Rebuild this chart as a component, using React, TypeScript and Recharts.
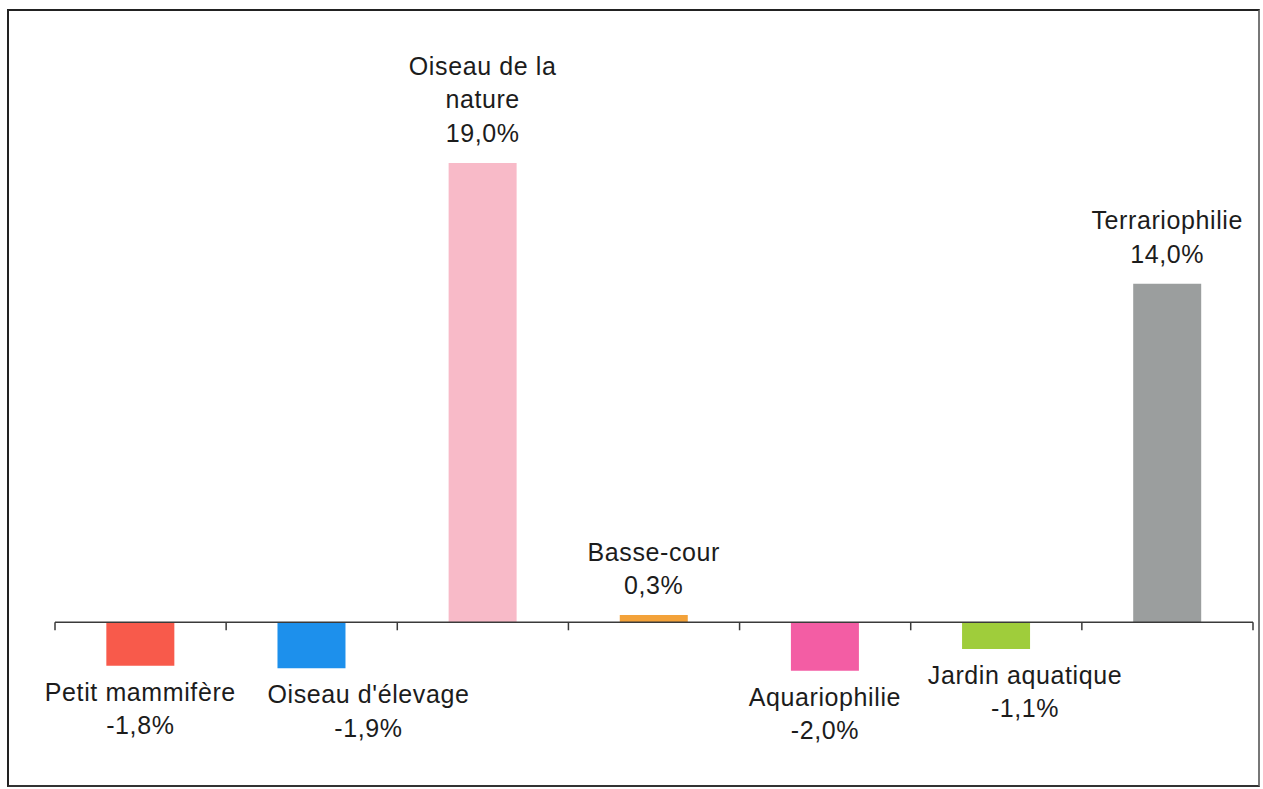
import { BarChart, Bar, XAxis, YAxis, Cell, LabelList, ReferenceLine } from 'recharts'

// categories (a "\n" marks where the label wraps in the original)
const categories = [
  'Petit mammifère',
  "Oiseau d'élevage",
  'Oiseau de la\nnature',
  'Basse-cour',
  'Aquariophilie',
  'Jardin aquatique',
  'Terrariophilie',
]
const values = [-1.8, -1.9, 19.0, 0.3, -2.0, -1.1, 14.0]
const colors = ['#f85a4b', '#1d90ec', '#f8bac8', '#f3a23a', '#f35da4', '#9fcd3b', '#9b9e9e']

// labels that were nudged sideways in the original to avoid overlaps
const labelShift: Record<string, number> = {
  "Oiseau d'élevage": 57,
  'Jardin aquatique': 29,
}

const data = categories.map((name, i) => ({ name, value: values[i] }))

const fmt = (v: number) => v.toFixed(1).replace('.', ',') + '%'

const textStyle = {
  fontFamily: '"Liberation Sans", Arial, sans-serif',
  fontSize: 25,
  letterSpacing: 0.6,
  fill: '#1c1c1c',
}

const LINE = 33.5

function BarLabel(props: any) {
  const { x, y, width, height, index } = props
  const d = data[index]
  if (!d) return null
  const top = Math.min(y, y + height)
  const bottom = Math.max(y, y + height)
  const cx = x + width / 2 + (labelShift[d.name] || 0)
  const lines = [...d.name.split('\n'), fmt(d.value)]
  const ys =
    d.value >= 0
      ? lines.map((_, i) => top - 30 - (lines.length - 1 - i) * LINE)
      : lines.map((_, i) => bottom + 26 + i * LINE)
  return (
    <g>
      {lines.map((t, i) => (
        <text key={i} x={cx} y={ys[i]} textAnchor="middle" dominantBaseline="central" {...textStyle}>
          {t}
        </text>
      ))}
    </g>
  )
}

function ZeroAxis(props: any) {
  const { x1, x2, y1 } = props
  const n = categories.length
  const step = (x2 - x1) / n
  const ticks = Array.from({ length: n + 1 }, (_, i) => x1 + i * step)
  return (
    <g>
      <line x1={x1} x2={x2} y1={y1} y2={y1} stroke="#3a3a3a" strokeWidth={1.5} />
      {ticks.map((tx, i) => (
        <line key={i} x1={tx} x2={tx} y1={y1} y2={y1 + 8} stroke="#3a3a3a" strokeWidth={1.5} />
      ))}
    </g>
  )
}

export default function App() {
  return (
    <div style={{ position: 'absolute', left: 0, top: 0, width: 1263, height: 789, background: '#fff' }}>
      <div
        style={{
          position: 'absolute',
          left: 7,
          top: 9,
          width: 1253,
          height: 778,
          borderLeft: '2px solid #222',
          borderTop: '2px solid #222',
          borderRight: '2px solid #777',
          borderBottom: '2px solid #333',
          boxSizing: 'border-box',
        }}
      />
      <div style={{ position: 'absolute', left: 0, top: 0 }}>
        <BarChart
          width={1263}
          height={789}
          data={data}
          margin={{ top: 42, right: 10, left: 55, bottom: 70 }}
          barCategoryGap="30%"
        >
          <XAxis dataKey="name" hide />
          <YAxis type="number" domain={[-4, 24]} hide allowDataOverflow />
          <Bar dataKey="value" isAnimationActive={false}>
            {data.map((d, i) => (
              <Cell key={d.name} fill={colors[i]} />
            ))}
            <LabelList dataKey="value" content={BarLabel} />
          </Bar>
          <ReferenceLine y={0} shape={ZeroAxis} />
        </BarChart>
      </div>
    </div>
  )
}
